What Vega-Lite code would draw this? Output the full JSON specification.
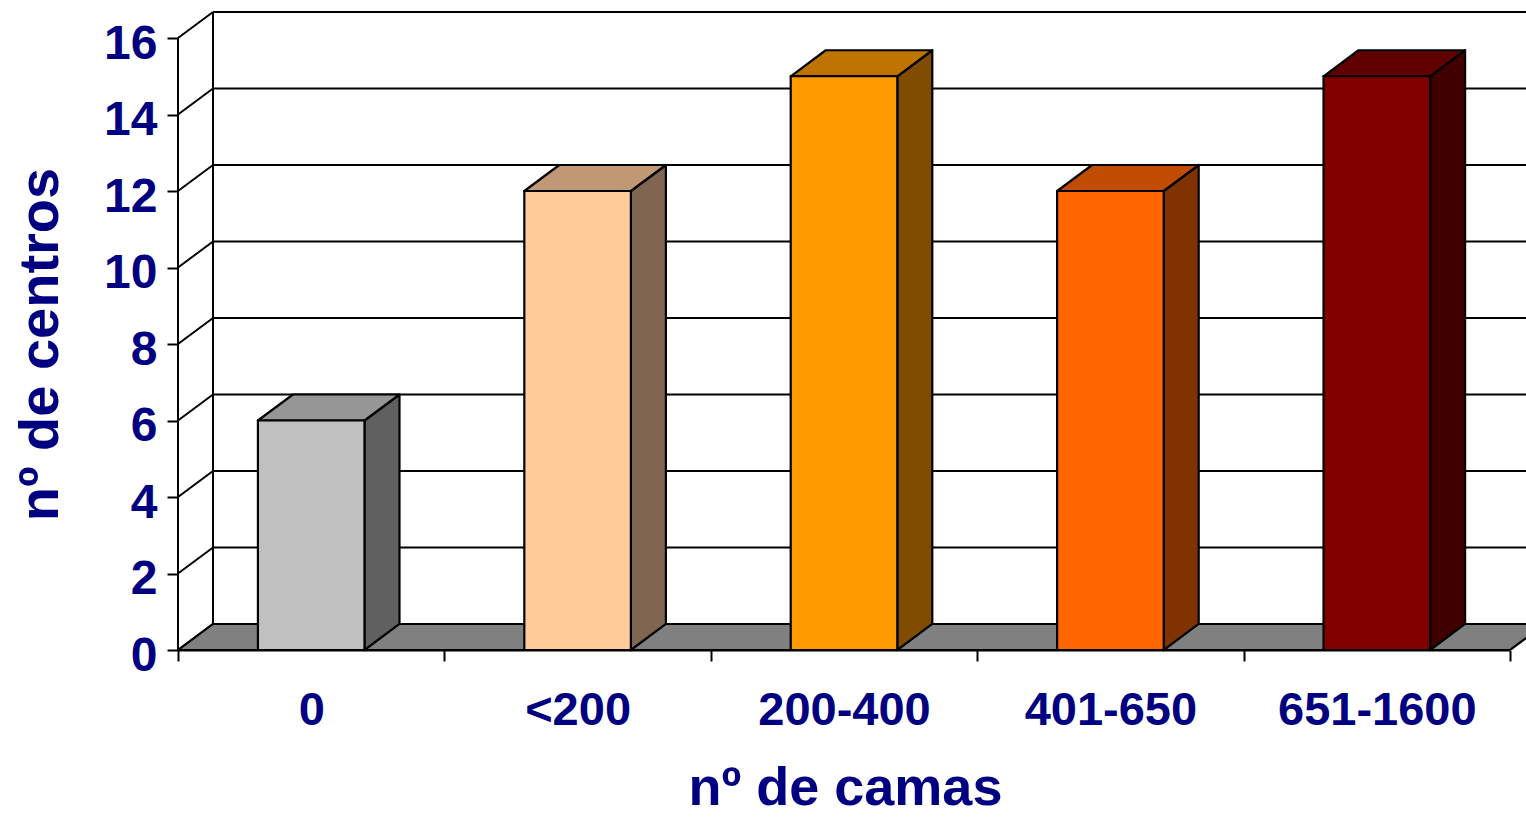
{
  "$schema": "https://vega.github.io/schema/vega-lite/v6.json",
  "width": 1348,
  "height": 638,
  "autosize": {"type": "none"},
  "padding": {"left": 178, "top": 12, "right": 0, "bottom": 167},
  "background": "white",
  "config": {"view": {"stroke": null}},
  "datasets": {
    "camas": [
      {"camas": "0", "centros": 6},
      {"camas": "<200", "centros": 12},
      {"camas": "200-400", "centros": 15},
      {"camas": "401-650", "centros": 12},
      {"camas": "651-1600", "centros": 15}
    ],
    "grid": [
      {"v": 0}, {"v": 2}, {"v": 4}, {"v": 6}, {"v": 8},
      {"v": 10}, {"v": 12}, {"v": 14}, {"v": 16}
    ]
  },
  "resolve": {"scale": {"x": "independent", "fill": "independent"}, "axis": {"x": "independent", "y": "independent"}},
  "layer": [
    {
      "data": {"name": "grid"},
      "transform": [
        {"filter": "datum.v > 0"},
        {"calculate": "0.1314", "as": "gx0"},
        {"calculate": "5.06", "as": "gx1"},
        {"calculate": "datum.v + 0.68", "as": "gy"}
      ],
      "mark": {"type": "rule", "color": "black", "strokeWidth": 2},
      "encoding": {
        "x": {"field": "gx0", "type": "quantitative", "scale": {"domain": [0, 5.06], "nice": false, "zero": false}, "axis": null},
        "x2": {"field": "gx1"},
        "y": {"field": "gy", "type": "quantitative", "scale": {"domain": [0, 16.68], "nice": false}, "axis": null}
      }
    },
    {
      "data": {"name": "grid"},
      "transform": [
        {"calculate": "0", "as": "dx0"},
        {"calculate": "0.1314", "as": "dx1"},
        {"calculate": "datum.v + 0.68", "as": "dy1"}
      ],
      "mark": {"type": "rule", "color": "black", "strokeWidth": 2},
      "encoding": {
        "x": {"field": "dx0", "type": "quantitative", "scale": {"domain": [0, 5.06], "nice": false, "zero": false}, "axis": null},
        "x2": {"field": "dx1"},
        "y": {"field": "v", "type": "quantitative", "scale": {"domain": [0, 16.68], "nice": false}, "axis": null},
        "y2": {"field": "dy1"}
      }
    },
    {
      "data": {"name": "grid"},
      "transform": [
        {"filter": "datum.v == 16"},
        {"calculate": "0.1314", "as": "ex"},
        {"calculate": "0.68", "as": "ey0"},
        {"calculate": "datum.v + 0.68", "as": "ey1"}
      ],
      "mark": {"type": "rule", "color": "black", "strokeWidth": 2},
      "encoding": {
        "x": {"field": "ex", "type": "quantitative", "scale": {"domain": [0, 5.06], "nice": false, "zero": false}, "axis": null},
        "y": {"field": "ey0", "type": "quantitative", "scale": {"domain": [0, 16.68], "nice": false}, "axis": null},
        "y2": {"field": "ey1"}
      }
    },
    {
      "data": {"name": "grid"},
      "transform": [
        {"filter": "datum.v == 16"},
        {"calculate": "0", "as": "ex"},
        {"calculate": "0", "as": "ey0"}
      ],
      "mark": {"type": "rule", "color": "black", "strokeWidth": 2},
      "encoding": {
        "x": {"field": "ex", "type": "quantitative", "scale": {"domain": [0, 5.06], "nice": false, "zero": false}, "axis": null},
        "y": {"field": "ey0", "type": "quantitative", "scale": {"domain": [0, 16.68], "nice": false}, "axis": null},
        "y2": {"field": "v"}
      }
    },
    {
      "data": {"name": "grid"},
      "transform": [
        {"filter": "datum.v == 0"},
        {"calculate": "[0, 1]", "as": "d"},
        {"flatten": ["d"]},
        {"calculate": "datum.d * 0.1314", "as": "fx0"},
        {"calculate": "5 + datum.d * 0.1314", "as": "fx1"},
        {"calculate": "datum.d * 0.68", "as": "fy"}
      ],
      "mark": {"type": "area", "orient": "horizontal", "fill": "#808080", "stroke": "black", "strokeWidth": 2.2, "clip": true},
      "encoding": {
        "y": {"field": "fy", "type": "quantitative", "scale": {"domain": [0, 16.68], "nice": false}, "axis": null},
        "x": {"field": "fx0", "type": "quantitative", "scale": {"domain": [0, 5.06], "nice": false, "zero": false}, "axis": null},
        "x2": {"field": "fx1"}
      }
    },
    {
      "data": {"name": "camas"},
      "transform": [
        {"window": [{"op": "row_number", "as": "i"}]},
        {"calculate": "[0, 1]", "as": "d"},
        {"flatten": ["d"]},
        {"calculate": "datum.i - 1 + 0.7 + datum.d * 0.1314", "as": "sx"},
        {"calculate": "datum.d * 0.68", "as": "sy0"},
        {"calculate": "datum.centros + datum.d * 0.68", "as": "sy1"}
      ],
      "mark": {"type": "area", "orient": "vertical", "stroke": "black", "strokeWidth": 2.2, "strokeJoin": "round"},
      "encoding": {
        "x": {"field": "sx", "type": "quantitative", "scale": {"domain": [0, 5.06], "nice": false, "zero": false}, "axis": null},
        "y": {"field": "sy1", "type": "quantitative", "scale": {"domain": [0, 16.68], "nice": false}, "axis": null},
        "y2": {"field": "sy0"},
        "detail": {"field": "camas"},
        "fill": {"field": "camas", "type": "nominal", "legend": null,
          "scale": {"domain": ["0", "<200", "200-400", "401-650", "651-1600"], "range": ["#606060", "#806650", "#804C00", "#803300", "#400000"]}}
      }
    },
    {
      "data": {"name": "camas"},
      "transform": [
        {"window": [{"op": "row_number", "as": "i"}]},
        {"calculate": "[0, 1]", "as": "d"},
        {"flatten": ["d"]},
        {"calculate": "datum.i - 1 + 0.3 + datum.d * 0.1314", "as": "tx0"},
        {"calculate": "datum.i - 1 + 0.7 + datum.d * 0.1314", "as": "tx1"},
        {"calculate": "datum.centros + datum.d * 0.68", "as": "ty"}
      ],
      "mark": {"type": "area", "orient": "horizontal", "stroke": "black", "strokeWidth": 2.2, "strokeJoin": "round"},
      "encoding": {
        "y": {"field": "ty", "type": "quantitative", "scale": {"domain": [0, 16.68], "nice": false}, "axis": null},
        "x": {"field": "tx0", "type": "quantitative", "scale": {"domain": [0, 5.06], "nice": false, "zero": false}, "axis": null},
        "x2": {"field": "tx1"},
        "detail": {"field": "camas"},
        "fill": {"field": "camas", "type": "nominal", "legend": null,
          "scale": {"domain": ["0", "<200", "200-400", "401-650", "651-1600"], "range": ["#969696", "#C09874", "#BF7300", "#BF4C00", "#600000"]}}
      }
    },
    {
      "data": {"name": "camas"},
      "mark": {"type": "bar", "width": {"band": 0.4}, "stroke": "black", "strokeWidth": 2.2},
      "encoding": {
        "x": {"field": "camas", "type": "nominal", "sort": null,
          "scale": {"range": [0, 1332], "paddingInner": 0, "paddingOuter": 0},
          "axis": {
            "labelAngle": 0, "labelFont": "Liberation Sans", "labelFontWeight": "bold", "labelFontSize": 47, "labelColor": "#000080",
            "labelBaseline": "alphabetic", "labelPadding": 63, "labelLimit": 0,
            "tickBand": "extent", "tickSize": 11, "tickWidth": 2, "tickColor": "black",
            "domainColor": "black", "domainWidth": 2.2,
            "title": "nº de camas", "titleFont": "Liberation Sans", "titleFontWeight": "bold", "titleFontSize": 54, "titleColor": "#000080",
            "titleX": 667, "titleY": 154, "titleBaseline": "alphabetic", "titleAlign": "center", "titleLimit": 0
          }},
        "y": {"field": "centros", "type": "quantitative", "scale": {"domain": [0, 16.68], "nice": false},
          "axis": {
            "values": [0, 2, 4, 6, 8, 10, 12, 14, 16], "grid": false, "domain": false,
            "labelFont": "Liberation Sans", "labelFontWeight": "bold", "labelFontSize": 48, "labelColor": "#000080",
            "labelAlign": "right", "labelBaseline": "alphabetic", "labelOffset": 20, "labelPadding": 10,
            "tickSize": 11, "tickWidth": 2, "tickColor": "black",
            "title": "nº de centros", "titleFont": "Liberation Sans", "titleFontWeight": "bold", "titleFontSize": 56, "titleColor": "#000080",
            "titleAngle": 270, "titleX": -121, "titleY": 332, "titleBaseline": "alphabetic", "titleAlign": "center", "titleLimit": 0
          }},
        "fill": {"field": "camas", "type": "nominal", "legend": null,
          "scale": {"domain": ["0", "<200", "200-400", "401-650", "651-1600"], "range": ["#C0C0C0", "#FFCC99", "#FF9900", "#FF6600", "#800000"]}}
      }
    }
  ]
}
